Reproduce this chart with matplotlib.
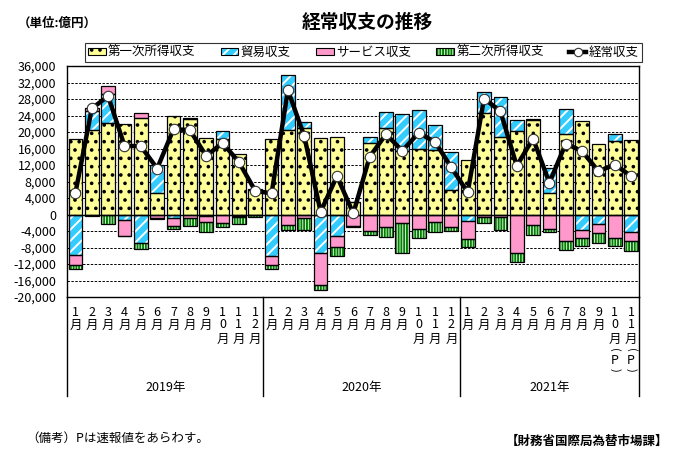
import numpy as np
import matplotlib
matplotlib.use("Agg")
import matplotlib.pyplot as plt
from matplotlib.patches import Patch
from matplotlib.lines import Line2D
from matplotlib.ticker import FuncFormatter
from matplotlib.transforms import blended_transform_factory

plt.rcParams["font.family"] = ["Noto Sans CJK JP", "DejaVu Sans"]
plt.rcParams["hatch.linewidth"] = 1.4

# ── データ（億円）2019年1月〜2021年11月 ─────────────────────────────────
years = ["2019年", "2020年", "2021年"]
months_per_year = [12, 12, 11]
month_labels = (
    ["1\n月", "2\n月", "3\n月", "4\n月", "5\n月", "6\n月", "7\n月", "8\n月", "9\n月",
     "1\n0\n月", "1\n1\n月", "1\n2\n月"] * 2
    + ["1\n月", "2\n月", "3\n月", "4\n月", "5\n月", "6\n月", "7\n月", "8\n月", "9\n月",
       "1\n0\n月\n(\nP\n)", "1\n1\n月\n(\nP\n)"]
)

primary = [18200, 20600, 22300, 22000, 23500, 5100, 23800, 23100, 18600, 18200, 14550, 6000,
           18200, 20400, 21000, 18600, 18800, 3100, 17450, 20850, 15400, 16000, 15750, 5900,
           13200, 24700, 18700, 20200, 23000, 5300, 19600, 22700, 17200, 17800, 18000]
trade = [-9900, 4500, 6800, -1400, -6800, 6900, -800, 200, -300, 2100, -300, 200,
         -10000, 13300, 1450, -9300, -5200, 0, 1350, 4050, 9050, 9450, 6050, 9300,
         -1550, 5000, 9850, 2650, 200, 6050, 6050, -3650, -2200, 1600, -4200]
services = [-2400, 800, 1950, -3800, 1200, -950, -2000, -950, -1600, -1950, -300, -100,
            -2250, -2600, -950, -7700, -2650, -2750, -4050, -3150, -1950, -3550, -1800, -3150,
            -4300, -550, -550, -9450, -2650, -3400, -6400, -1950, -2400, -5600, -2200]
secondary = [-800, -400, -2400, -100, -1450, -250, -800, -1800, -2400, -1200, -1600, -400,
             -1050, -1200, -2850, -1200, -2200, -250, -950, -2250, -7350, -2100, -2400, -900,
             -2000, -1600, -3250, -2000, -2200, -800, -2100, -2000, -2200, -2000, -2400]
current = [5300, 25700, 28700, 16650, 16550, 11150, 20700, 20450, 14200, 17350, 12700, 5750,
           5100, 30150, 19000, 650, 9300, 250, 14000, 19450, 15450, 19800, 17600, 11400,
           5350, 28100, 25050, 11800, 18400, 7700, 17200, 15350, 10500, 12100, 9300]

# 系列ごとの塗り・ハッチ
series = [
    ("第一次所得収支", primary, "#FFFF99", "..", "black"),
    ("貿易収支", trade, "#33CCFF", "///", "white"),
    ("サービス収支", services, "#FF99CC", "", "#FF99CC"),
    ("第二次所得収支", secondary, "white", "||||||", "#008000"),
]

W, H = 685, 470


def fx(px):
    return px / W


def fy(py):
    return 1 - py / H


fig = plt.figure(figsize=(W / 100, H / 100), dpi=100)
ax = fig.add_axes([fx(67.3), fy(297), fx(639.3) - fx(67.3), fy(66) - fy(297)])

n = len(primary)
x = np.arange(n)
bw = 0.84

pos_base = np.zeros(n)
neg_base = np.zeros(n)
handles = []
for name, vals, fc, hatch, hc in series:
    v = np.array(vals, dtype=float)
    bottom = np.where(v >= 0, pos_base, neg_base)
    ax.bar(x, v, bw, bottom=bottom, color=fc, hatch=hatch, edgecolor=hc, linewidth=0, zorder=2)
    ax.bar(x, v, bw, bottom=bottom, fill=False, edgecolor="black", linewidth=0.9, zorder=3)
    pos_base = pos_base + np.where(v >= 0, v, 0)
    neg_base = neg_base + np.where(v < 0, v, 0)
    handles.append((Patch(facecolor=fc, hatch=hatch, edgecolor=hc, linewidth=0),
                    Patch(fill=False, edgecolor="black", linewidth=0.8)))

ax.plot(x, current, color="black", lw=3.2, marker="o", ms=7.5,
        mfc="white", mec="#333333", mew=0.8, zorder=5)
handles.append(Line2D([], [], color="black", lw=3.2, marker="o", ms=6,
                      mfc="white", mec="#333333", mew=0.8))

ax.set_xlim(-0.5, n - 0.5)
ax.set_ylim(-20000, 36000)
ax.set_yticks(np.arange(-20000, 36001, 4000))
ax.yaxis.set_major_formatter(FuncFormatter(lambda v, p: "{:,.0f}".format(v)))
ax.tick_params(axis="y", length=0, labelsize=9, pad=8)
ax.set_xticks([])
for yv in np.arange(-16000, 36000, 4000):
    if yv == 0:
        ax.axhline(0, color="black", lw=1.0, zorder=4)
    else:
        ax.axhline(yv, color="black", lw=0.7, ls=(0, (2.5, 1.5)), zorder=1)
for s in ax.spines.values():
    s.set_linewidth(1.0)

# 月ラベル（縦書き、括弧は横向きに回転）
tr = blended_transform_factory(ax.transData, fig.transFigure)
row_y = [312, 325, 339, 350, 360, 370]
for i, lab in enumerate(month_labels):
    for j, ch in enumerate(lab.split("\n")):
        if ch in "()":
            ax.text(i, fy(row_y[j]), ch, transform=tr, ha="center", va="center",
                    fontsize=8, rotation=-90, clip_on=False)
        else:
            ax.text(i, fy(row_y[j]), ch, transform=tr, ha="center", va="center",
                    fontsize=9, clip_on=False)

# 年ラベルと区切り線
edges = np.concatenate([[0], np.cumsum(months_per_year)]) - 0.5
for k, yr in enumerate(years):
    ax.text((edges[k] + edges[k + 1]) / 2, fy(387), yr, transform=tr,
            ha="center", va="center", fontsize=9)
for e in edges:
    ax.plot([e, e], [fy(297), fy(396)], transform=tr, color="black", lw=1.0, clip_on=False)

# 凡例
labels = [s[0] for s in series] + ["経常収支"]
leg = fig.legend(handles, labels, loc="lower left", ncol=5, mode="expand",
                 bbox_to_anchor=(fx(85), fy(62), fx(642) - fx(85), fy(42) - fy(62)),
                 fontsize=9, frameon=True, fancybox=False, edgecolor="black",
                 handlelength=1.4, handleheight=0.55, handletextpad=0.2,
                 borderpad=0.25, borderaxespad=0)
leg.get_frame().set_linewidth(0.8)

fig.text(fx(367), fy(22), "経常収支の推移", ha="center", va="center",
         fontsize=13.5, fontweight="bold")
fig.text(fx(18), fy(23), "（単位:億円）", ha="left", va="center", fontsize=9, fontweight="bold")
fig.text(fx(26), fy(438), "（備考）Pは速報値をあらわす。", ha="left", va="center", fontsize=9)
fig.text(fx(668), fy(441), "【財務省国際局為替市場課】", ha="right", va="center",
         fontsize=9, fontweight="bold")

fig.savefig("out.png", dpi=100)
